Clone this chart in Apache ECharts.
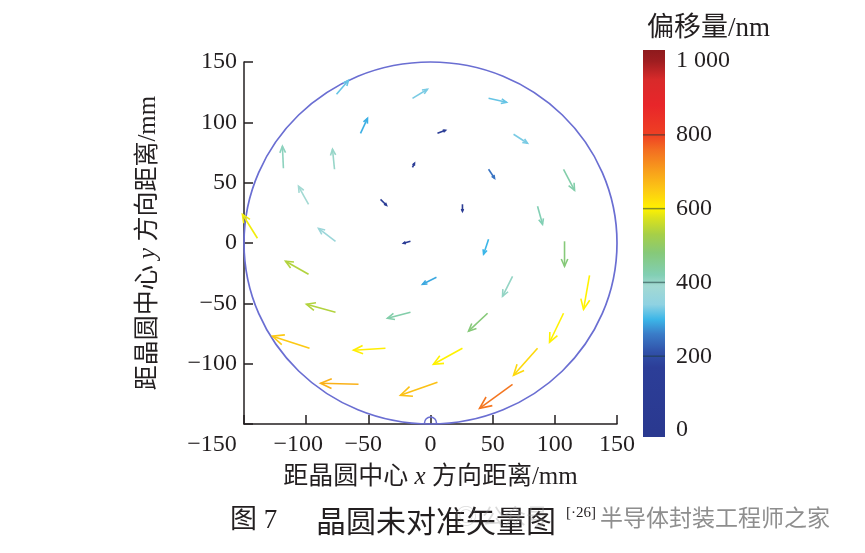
<!DOCTYPE html>
<html><head><meta charset="utf-8">
<script src="https://cdn.jsdelivr.net/npm/echarts@6/dist/echarts.min.js"></script>
<style>html,body{margin:0;padding:0;background:#fff}#c{width:865px;height:553px}</style>
</head><body><div id="c"></div>
<script>
// ---- data (mm positions, vector components in nm, magnitude in nm) ----
const tailX = [-75.6,-14.5,46.7,-56.3,5.6,66.8,-118.3,-77.2,-14.5,46.7,107.0,-98.1,-40.2,25.7,86.1,-139.2,-76.4,-16.1,46.7,107.8,-98.1,4.8,66.0,127.9,-76.4,-16.1,45.9,107.0,-97.3,-36.2,25.7,86.1,-57.9,5.6,66.0];
const tailY = [123.2,119.9,119.9,90.9,90.9,90.1,61.9,61.1,62.7,61.1,61.1,32.1,36.2,32.1,30.4,3.9,1.4,1.4,3.1,1.4,-25.9,-28.4,-27.6,-26.8,-57.4,-57.4,-58.2,-58.2,-87.2,-87.2,-87.2,-87.2,-117.1,-115.4,-117.1];
const vecU = [215,268,322,125,143,250,-18,-36,36,107,197,-179,107,0,89,-268,-304,-125,-89,0,-411,-250,-179,-107,-519,-411,-340,-250,-662,-572,-519,-429,-679,-662,-590];
const vecV = [258,166,-74,276,55,-166,405,368,74,-166,-387,331,-110,-129,-331,442,239,-37,-276,-460,239,-129,-368,-626,147,-110,-331,-534,221,-37,-295,-497,18,-239,-442];
const offsetMag = [320,330,320,295,120,330,410,400,100,250,430,390,120,90,420,590,370,110,300,480,540,290,405,600,540,430,480,600,650,605,600,630,680,660,750];
const axisTicks = [-150,-100,-50,0,50,100,150];
const barTicks = [0,200,400,600,800,1000];
const barMarks = [200,400,600,800];
const waferRadius = [150];
const cmapValues = [0,170,210,260,300,340,390,420,480,530,575,600,650,700,760,800,880,950,1000];
const cmapColors = ['#2a3990','#2c3e98','#3050a8','#3a7cc8','#3cb6e8','#8fd2e2','#a3d9d3','#82cfb4','#86c979','#a6cf48','#dbe21c','#fff200','#fcc914','#f8a11b','#f36d21','#ef4023','#e8262a','#d82a2a','#9e1d20'];

const BAR_MIN = -19, BAR_MAX = 1030;
const MM_PER_NM = 0.045;
const SERIF = '"Liberation Serif","Noto Sans CJK SC",serif';
const INK = '#231f20';

function hex(c){return [parseInt(c.substr(1,2),16),parseInt(c.substr(3,2),16),parseInt(c.substr(5,2),16)];}
function cmap(v){
  if (v <= cmapValues[0]) return cmapColors[0];
  for (let i=1;i<cmapValues.length;i++){
    if (v <= cmapValues[i]){
      const t=(v-cmapValues[i-1])/(cmapValues[i]-cmapValues[i-1]);
      const a=hex(cmapColors[i-1]), b=hex(cmapColors[i]);
      return 'rgb('+a.map((x,k)=>Math.round(x+(b[k]-x)*t)).join(',')+')';
    }
  }
  return cmapColors[cmapColors.length-1];
}

const arrows = tailX.map((x,i)=>[x,tailY[i],vecU[i],vecV[i],offsetMag[i]]);

function fmtTick(v){
  if (v === -150) return '{w|−150}';
  if (v === -100) return '{m|−100}';
  if (v === -50) return '{s|−50}';
  return '{n|' + v + '}';
}
const tickRich = {
  n:{fontSize:24,fontFamily:SERIF,color:INK},
  w:{fontSize:24,fontFamily:SERIF,color:INK,padding:[0,64,0,0]},
  m:{fontSize:24,fontFamily:SERIF,color:INK,padding:[0,16,0,0]},
  s:{fontSize:24,fontFamily:SERIF,color:INK,padding:[0,10,0,0]}
};
const nameRich = {
  c:{fontSize:25,fontFamily:SERIF,color:INK},
  i:{fontSize:25,fontFamily:SERIF,fontStyle:'italic',color:INK}
};

const chart = echarts.init(document.getElementById('c'), null, {renderer:'canvas'});
const gradStops = cmapValues.map((v,i)=>({offset:(v-BAR_MIN)/(BAR_MAX-BAR_MIN), color:cmapColors[i]}));
gradStops.unshift({offset:0,color:cmapColors[0]});
gradStops.push({offset:1,color:'#8e1a1d'});

chart.setOption({
  animation:false,
  backgroundColor:'#fff',
  grid:[
    {left:244, top:62, width:373, height:362},
    {left:643, top:50, width:22, height:387}
  ],
  xAxis:[
    {gridIndex:0, type:'value', min:-150, max:150, interval:50,
     axisLine:{show:true, onZero:false, lineStyle:{color:INK,width:1.5}},
     axisTick:{show:true, inside:true, length:9, lineStyle:{color:INK,width:1.5}},
     splitLine:{show:false},
     axisLabel:{margin:9, formatter:fmtTick, rich:tickRich},
     name:'{c|距晶圆中心}{i| x }{c|方向距离/mm}', nameLocation:'middle', nameGap:41,
     nameTextStyle:{rich:nameRich}},
    {gridIndex:1, type:'value', min:0, max:1, show:false}
  ],
  yAxis:[
    {gridIndex:0, type:'value', min:-150, max:150, interval:50,
     axisLine:{show:true, onZero:false, lineStyle:{color:INK,width:1.5}},
     axisTick:{show:true, inside:true, length:9, lineStyle:{color:INK,width:1.5}},
     splitLine:{show:false},
     axisLabel:{margin:7, fontSize:24, fontFamily:SERIF, color:INK,
       formatter:v=> v===-150 ? '' : (v<0 ? '−'+(-v) : ''+v)},
     name:'{c|距晶圆中心}{i| y }{c|方向距离/mm}', nameLocation:'middle', nameGap:83, nameRotate:90,
     nameTextStyle:{rich:nameRich}},
    {gridIndex:1, type:'value', min:BAR_MIN, max:BAR_MAX, position:'right',
     axisLine:{show:false},
     axisTick:{show:false},
     splitLine:{show:false},
     axisLabel:{margin:11, fontSize:24, fontFamily:SERIF, color:INK, customValues:barTicks,
       formatter:v=> v===1000 ? '1 000' : ''+v}}
  ],
  graphic:[
    {type:'text', left:647, top:15, style:{text:'偏移量/nm', font:'27px "Liberation Serif","Noto Sans CJK SC",serif', fill:INK}},
    {type:'text', left:230, top:507, style:{text:'图 7', font:'27px "Liberation Serif","Noto Sans CJK SC",serif', fill:INK}},
    {type:'text', left:316, top:506, style:{text:'晶圆未对准矢量图', font:'30px "Noto Sans CJK SC",serif', fill:INK}},
    {type:'text', left:455, top:505, style:{text:'◎ 公众号', font:'22px "Noto Sans CJK SC",sans-serif', fill:'rgba(150,150,150,0.35)'}},
    {type:'text', left:566, top:506, style:{text:'[·26]', font:'15px "Liberation Serif",serif', fill:INK}},
    {type:'text', left:600, top:506, style:{text:'半导体封装工程师之家', font:'23px "Noto Sans CJK SC",sans-serif', fill:'#8e8e8e'}}
  ],
  series:[
    {type:'custom', xAxisIndex:0, yAxisIndex:0, clip:false, z:3,
     data:[[0,0,waferRadius[0]]],
     renderItem:(params,api)=>{
       const c=api.coord([api.value(0),api.value(1)]);
       const s=api.size([api.value(2),api.value(2)]);
       const b=api.coord([0,-api.value(2)]);
       return {type:'group', children:[
         {type:'ellipse', shape:{cx:c[0],cy:c[1],rx:s[0],ry:s[1]}, style:{fill:null,stroke:'#6a6ed2',lineWidth:1.7}},
         {type:'arc', shape:{cx:b[0],cy:b[1]-1,r:6,startAngle:Math.PI,endAngle:2*Math.PI}, style:{fill:null,stroke:'#6a6ed2',lineWidth:1.5}}
       ]};
     }},
    {type:'custom', xAxisIndex:0, yAxisIndex:0, clip:false, z:4,
     data:arrows,
     renderItem:(params,api)=>{
       const x=api.value(0), y=api.value(1), u=api.value(2), v=api.value(3), m=api.value(4);
       const p0=api.coord([x,y]);
       const p1=api.coord([x+u*MM_PER_NM, y+v*MM_PER_NM]);
       const dx=p1[0]-p0[0], dy=p1[1]-p0[1];
       const len=Math.sqrt(dx*dx+dy*dy)||1;
       const ang=Math.atan2(dy,dx);
       const hl=Math.max(2.5, 0.32*len), ha=0.42;
       const b1=[p1[0]-hl*Math.cos(ang-ha), p1[1]-hl*Math.sin(ang-ha)];
       const b2=[p1[0]-hl*Math.cos(ang+ha), p1[1]-hl*Math.sin(ang+ha)];
       const col=cmap(m);
       return {type:'group', children:[
         {type:'line', shape:{x1:p0[0],y1:p0[1],x2:p1[0],y2:p1[1]}, style:{stroke:col,lineWidth:1.6}},
         {type:'polyline', shape:{points:[b1,p1,b2]}, style:{stroke:col,lineWidth:1.6,fill:null}}
       ]};
     }},
    {type:'custom', xAxisIndex:1, yAxisIndex:1, clip:false, z:2,
     data:[[0]],
     renderItem:(params,api)=>{
       const a=api.coord([0,BAR_MIN]), b=api.coord([1,BAR_MAX]);
       const kids=[{type:'rect', shape:{x:a[0],y:b[1],width:b[0]-a[0],height:a[1]-b[1]},
         style:{fill:new echarts.graphic.LinearGradient(0,1,0,0,gradStops)}}];
       barMarks.forEach(t=>{
         const p=api.coord([0,t]);
         kids.push({type:'line', shape:{x1:a[0],y1:p[1],x2:b[0],y2:p[1]}, style:{stroke:'rgba(30,60,60,0.55)',lineWidth:1.5}});
       });
       return {type:'group', children:kids};
     }}
  ]
});
</script></body></html>
